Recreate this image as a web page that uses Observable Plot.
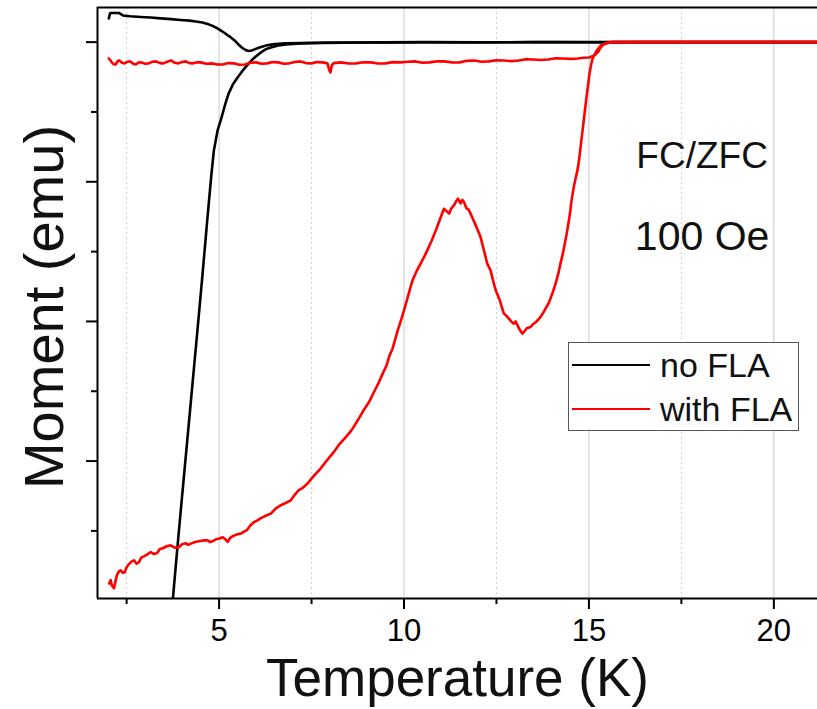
<!DOCTYPE html>
<html>
<head>
<meta charset="utf-8">
<script src="https://cdn.jsdelivr.net/npm/d3@7"></script>
<script src="https://cdn.jsdelivr.net/npm/@observablehq/plot@0.6"></script>
<style>
  html, body { margin: 0; padding: 0; background: #fff; }
  #wrap { position: relative; width: 817px; height: 709px; overflow: hidden; font-family: "Liberation Sans", Arial, sans-serif; }
  #legend { position: absolute; left: 568px; top: 342px; width: 231px; height: 89px; border: 1px solid #555; background: #fff; box-sizing: border-box; }
  .lrow { position: absolute; left: 0; height: 36px; display: flex; align-items: center; }
  .lsw { width: 78px; height: 0; border-top: 2.5px solid #000; margin-left: 3px; margin-right: 10px; }
  .ltx { font-size: 34px; color: #111; line-height: 36px; }
</style>
</head>
<body>
<div id="wrap"></div>
<script>
// ---- axes ----
const xDomain = [1.713, 21.18];
const yDomain = [-3.984, 0.248];
const xMajorTicks = [5, 10, 15, 20];
const xMinorTicks = [2.5, 7.5, 12.5, 17.5];
const yMajorTicks = [-3, -2, -1, 0];
const yMinorTicks = [-3.5, -2.5, -1.5, -0.5];
const seriesNames = ["no FLA", "with FLA"];
const seriesColors = ["#000000", "#ff0000"];

// ---- data: [Temperature (K), Moment (arb. units of major tick)] ----
const noFLA_FC = [[2.02,0.17],[2.05,0.205],[2.08,0.209],[2.29,0.209],[2.40,0.191],[2.6,0.185],[2.88,0.180],[3.15,0.176],[3.42,0.170],[3.7,0.165],[3.96,0.159],[4.2,0.154],[4.37,0.148],[4.55,0.14],[4.69,0.130],[4.81,0.118],[4.91,0.105],[5.02,0.088],[5.13,0.069],[5.23,0.05],[5.32,0.034],[5.42,0.012],[5.51,-0.013],[5.59,-0.033],[5.67,-0.049],[5.74,-0.059],[5.80,-0.063],[5.88,-0.06],[5.96,-0.052],[6.07,-0.04],[6.18,-0.031],[6.3,-0.022],[6.45,-0.016],[6.6,-0.012],[6.8,-0.009],[7.21,-0.006],[7.8,-0.004],[8.5,-0.003],[9.5,-0.002],[10.5,0.0],[12,-0.002],[13.5,0.0],[15,-0.001],[16.5,0],[18,0],[19.5,0],[21.5,0]];

const noFLA_ZFC = [[3.75,-3.99],[3.843,-3.71],[3.94,-3.424],[4.04,-3.138],[4.14,-2.851],[4.24,-2.565],[4.34,-2.278],[4.44,-1.992],[4.55,-1.67],[4.68,-1.276],[4.79,-0.954],[4.86,-0.775],[4.96,-0.632],[5.06,-0.546],[5.16,-0.45],[5.26,-0.367],[5.38,-0.3],[5.50,-0.253],[5.65,-0.2],[5.80,-0.152],[5.96,-0.11],[6.13,-0.074],[6.27,-0.05],[6.40,-0.038],[6.6,-0.024],[6.80,-0.016],[7.21,-0.009],[7.8,-0.005],[9,-0.003],[11,-0.001],[14,0],[17,0],[21.5,0]];

const withFLA_FC = [[2.02,-0.117],[2.06,-0.13],[2.1,-0.145],[2.15,-0.158],[2.2,-0.16],[2.25,-0.14],[2.3,-0.131],[2.38,-0.148],[2.45,-0.152],[2.52,-0.14],[2.6,-0.138],[2.68,-0.155],[2.75,-0.16],[2.82,-0.146],[2.9,-0.145],[3.0,-0.155],[3.1,-0.152],[3.2,-0.14],[3.3,-0.138],[3.4,-0.15],[3.5,-0.152],[3.6,-0.14],[3.7,-0.131],[3.8,-0.148],[3.9,-0.152],[4.0,-0.142],[4.1,-0.138],[4.2,-0.15],[4.3,-0.152],[4.4,-0.144],[4.5,-0.145],[4.65,-0.155],[4.8,-0.152],[4.95,-0.16],[5.1,-0.16],[5.25,-0.15],[5.4,-0.152],[5.55,-0.162],[5.7,-0.16],[5.85,-0.148],[6.0,-0.145],[6.15,-0.155],[6.3,-0.152],[6.45,-0.143],[6.6,-0.145],[6.75,-0.155],[6.9,-0.152],[7.05,-0.142],[7.2,-0.138],[7.35,-0.15],[7.5,-0.152],[7.65,-0.143],[7.8,-0.145],[7.93,-0.152],[7.98,-0.2],[8.01,-0.217],[8.05,-0.165],[8.1,-0.15],[8.3,-0.145],[8.5,-0.153],[8.7,-0.152],[8.9,-0.144],[9.1,-0.145],[9.3,-0.153],[9.5,-0.152],[9.7,-0.143],[9.9,-0.145],[10.1,-0.14],[10.3,-0.138],[10.5,-0.147],[10.7,-0.145],[10.9,-0.137],[11.1,-0.138],[11.3,-0.146],[11.5,-0.145],[11.7,-0.134],[11.9,-0.131],[12.1,-0.14],[12.3,-0.138],[12.5,-0.13],[12.7,-0.131],[12.9,-0.136],[13.1,-0.131],[13.3,-0.122],[13.5,-0.124],[13.7,-0.128],[13.9,-0.124],[14.1,-0.115],[14.3,-0.117],[14.5,-0.12],[14.7,-0.117],[14.85,-0.112],[15.0,-0.11],[15.15,-0.095],[15.25,-0.07],[15.3,-0.045],[15.38,-0.02],[15.45,-0.009],[15.6,0],[16.5,0],[18,0],[19.5,0],[21.5,0]];

const withFLA_ZFC = [[2.03,-3.877],[2.07,-3.853],[2.1,-3.89],[2.16,-3.911],[2.2,-3.86],[2.24,-3.817],[2.29,-3.79],[2.34,-3.782],[2.4,-3.8],[2.45,-3.796],[2.5,-3.76],[2.56,-3.739],[2.63,-3.72],[2.70,-3.711],[2.77,-3.735],[2.83,-3.725],[2.9,-3.69],[2.97,-3.682],[3.05,-3.67],[3.15,-3.651],[3.23,-3.665],[3.32,-3.660],[3.4,-3.63],[3.48,-3.624],[3.58,-3.61],[3.69,-3.603],[3.8,-3.62],[3.91,-3.617],[4.0,-3.595],[4.10,-3.589],[4.17,-3.6],[4.24,-3.591],[4.35,-3.58],[4.45,-3.574],[4.57,-3.568],[4.69,-3.567],[4.76,-3.58],[4.83,-3.574],[4.92,-3.56],[5.0,-3.555],[5.10,-3.545],[5.17,-3.56],[5.23,-3.579],[5.3,-3.55],[5.37,-3.538],[5.48,-3.525],[5.59,-3.519],[5.67,-3.505],[5.75,-3.495],[5.85,-3.46],[5.95,-3.436],[6.04,-3.425],[6.13,-3.409],[6.27,-3.39],[6.40,-3.376],[6.53,-3.34],[6.67,-3.316],[6.8,-3.3],[6.94,-3.281],[7.05,-3.24],[7.15,-3.209],[7.27,-3.19],[7.39,-3.161],[7.55,-3.11],[7.75,-3.052],[7.9,-3.0],[8.10,-2.936],[8.25,-2.88],[8.42,-2.83],[8.58,-2.78],[8.75,-2.708],[8.9,-2.64],[9.05,-2.579],[9.2,-2.5],[9.32,-2.436],[9.43,-2.37],[9.53,-2.314],[9.6,-2.25],[9.69,-2.195],[9.76,-2.13],[9.83,-2.064],[9.92,-1.99],[10.0,-1.921],[10.09,-1.837],[10.16,-1.77],[10.23,-1.706],[10.34,-1.64],[10.45,-1.586],[10.54,-1.54],[10.63,-1.491],[10.75,-1.42],[10.86,-1.348],[10.97,-1.27],[11.08,-1.193],[11.15,-1.21],[11.22,-1.228],[11.28,-1.19],[11.35,-1.169],[11.41,-1.14],[11.46,-1.121],[11.53,-1.155],[11.58,-1.13],[11.62,-1.145],[11.69,-1.19],[11.75,-1.2],[11.80,-1.228],[11.87,-1.27],[11.94,-1.312],[12.0,-1.35],[12.07,-1.396],[12.16,-1.49],[12.25,-1.586],[12.34,-1.634],[12.41,-1.71],[12.48,-1.777],[12.59,-1.849],[12.70,-1.944],[12.77,-1.96],[12.83,-1.978],[12.9,-2.0],[12.97,-2.016],[13.02,-2.0],[13.07,-2.028],[13.13,-2.06],[13.2,-2.087],[13.26,-2.07],[13.32,-2.049],[13.42,-2.04],[13.49,-2.02],[13.56,-2.006],[13.62,-1.99],[13.69,-1.969],[13.76,-1.94],[13.83,-1.906],[13.9,-1.875],[13.96,-1.837],[14.03,-1.785],[14.10,-1.727],[14.17,-1.66],[14.23,-1.586],[14.29,-1.52],[14.34,-1.455],[14.4,-1.37],[14.46,-1.276],[14.5,-1.2],[14.53,-1.133],[14.59,-1.038],[14.64,-0.975],[14.69,-0.918],[14.74,-0.83],[14.78,-0.739],[14.82,-0.65],[14.86,-0.561],[14.9,-0.47],[14.94,-0.382],[14.98,-0.3],[15.02,-0.217],[15.06,-0.16],[15.10,-0.117],[15.16,-0.085],[15.21,-0.06],[15.32,-0.024],[15.48,-0.006],[15.64,0],[17,0],[19,0],[21.5,0]];

const curves = [
  {series: 0, pts: noFLA_FC},
  {series: 0, pts: noFLA_ZFC},
  {series: 1, pts: withFLA_FC},
  {series: 1, pts: withFLA_ZFC}
];

const FONT = "'Liberation Sans', Arial, sans-serif";

const lineMarks = curves.map(c => Plot.line(c.pts, {
  x: d => d[0], y: d => d[1],
  stroke: seriesColors[c.series], strokeWidth: 2.6, clip: true, curve: "linear"
}));

const chart = Plot.plot({
  width: 817,
  height: 709,
  marginLeft: 97,
  marginRight: 0,
  marginTop: 7,
  marginBottom: 111,
  style: {fontFamily: FONT, background: "#fff", color: "#000"},
  x: {domain: xDomain},
  y: {domain: yDomain},
  marks: [
    Plot.ruleX(xMajorTicks, {stroke: "#c8c8c8", strokeWidth: 1}),
    Plot.ruleX(xMinorTicks, {stroke: "#cfcfcf", strokeWidth: 1, strokeDasharray: "2,3"}),
    ...lineMarks,
    Plot.ruleX([xDomain[0]], {stroke: "#000", strokeWidth: 2}),
    Plot.ruleY(yDomain, {stroke: "#000", strokeWidth: 2}),
    Plot.axisX({ticks: xMajorTicks, tickSize: 11, tickPadding: 9, fontSize: 31, strokeWidth: 2, tickFormat: d => String(d), label: null}),
    Plot.axisX({ticks: xMinorTicks, tickSize: 6, strokeWidth: 2, tickFormat: () => "", label: null}),
    Plot.axisY({ticks: yMajorTicks, tickSize: 11, strokeWidth: 2, tickFormat: () => "", label: null}),
    Plot.axisY({ticks: yMinorTicks, tickSize: 6, strokeWidth: 2, tickFormat: () => "", label: null}),
    Plot.text(["Temperature (K)"], {frameAnchor: "bottom", dy: 81, fontSize: 53, lineAnchor: "middle", textAnchor: "middle", fill: "#111"}),
    Plot.text(["Moment (emu)"], {frameAnchor: "left", rotate: -90, dx: -52, dy: 4, fontSize: 56, lineAnchor: "middle", textAnchor: "middle", fill: "#111"}),
    Plot.text(["FC/ZFC"], {x: 18.06, y: -0.818, fontSize: 37, lineAnchor: "middle", textAnchor: "middle", fill: "#111"}),
    Plot.text(["100 Oe"], {x: 18.06, y: -1.391, fontSize: 41, lineAnchor: "middle", textAnchor: "middle", fill: "#111"})
  ]
});

const wrap = document.getElementById("wrap");
wrap.appendChild(chart);

// legend
const legend = document.createElement("div");
legend.id = "legend";
const rowCenters = [22, 66];
seriesNames.forEach((name, i) => {
  const row = document.createElement("div");
  row.className = "lrow";
  row.style.top = (rowCenters[i] - 18) + "px";
  const sw = document.createElement("div");
  sw.className = "lsw";
  sw.style.borderTopColor = seriesColors[i];
  const tx = document.createElement("span");
  tx.className = "ltx";
  tx.textContent = name;
  row.appendChild(sw);
  row.appendChild(tx);
  legend.appendChild(row);
});
wrap.appendChild(legend);
</script>
</body>
</html>
